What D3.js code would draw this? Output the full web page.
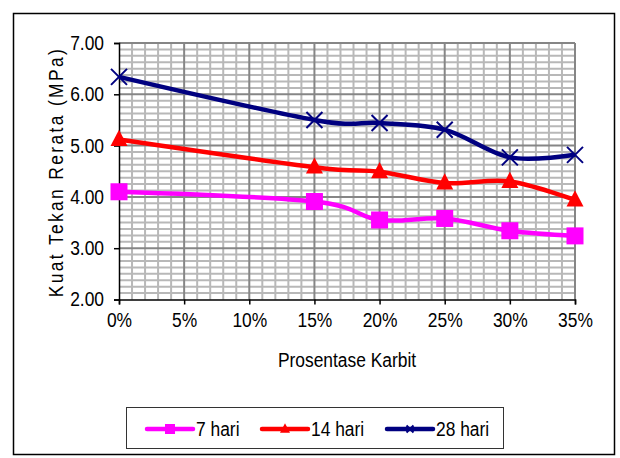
<!DOCTYPE html>
<html>
<head>
<meta charset="utf-8">
<script src="https://cdn.jsdelivr.net/npm/d3@7"></script>
<style>
  html, body { margin: 0; padding: 0; background: #fff; }
  svg { display: block; font-family: "Liberation Sans", Arial, sans-serif; }
</style>
</head>
<body>
<svg id="chart" width="620" height="458"></svg>
<script>
// Carbide percentage on the x axis (%)
const categories = [0, 15, 20, 25, 30, 35];
const xTickValues = [0, 5, 10, 15, 20, 25, 30, 35];
const yTickValues = [2, 3, 4, 5, 6, 7];

// Mean compressive strength (MPa) per curing age
const hari7 = [4.10, 3.91, 3.55, 3.58, 3.34, 3.24];
const hari14 = [5.12, 4.58, 4.49, 4.27, 4.30, 3.94];
const hari28 = [6.34, 5.50, 5.44, 5.31, 4.77, 4.82];

const seriesNames = ["7 hari", "14 hari", "28 hari"];
const seriesValues = [hari7, hari14, hari28];
const seriesColors = ["#ff00ff", "#ff0000", "#000080"];
const seriesMarkers = ["square", "triangle", "x"];

// narrow, tall lettering
const FONT = 20;
const SX = 0.87;

const svg = d3.select("#chart");

// outer frame
svg.append("rect")
  .attr("x", 13.5).attr("y", 13.5)
  .attr("width", 601).attr("height", 441)
  .attr("fill", "none").attr("stroke", "#000").attr("stroke-width", 1.5);

const x = d3.scaleLinear().domain([0, 35]).range([119, 575]);
const y = d3.scaleLinear().domain([2, 7]).range([299.5, 43]);

// minor grid
const grid = svg.append("g");
const minorX = d3.range(1, 36, 1).filter(d => d % 5 !== 0);
const minorY = d3.range(2.125, 7.001, 0.125).filter(d => Math.abs(d - Math.round(d)) > 1e-6);
grid.selectAll("line.mx").data(minorX).join("line")
  .attr("x1", d => x(d)).attr("x2", d => x(d))
  .attr("y1", y(7)).attr("y2", y(2))
  .attr("stroke", "#b8b8b8").attr("stroke-width", 2);
grid.selectAll("line.my").data(minorY).join("line")
  .attr("x1", x(0)).attr("x2", x(35))
  .attr("y1", d => y(d)).attr("y2", d => y(d))
  .attr("stroke", "#b8b8b8").attr("stroke-width", 2);
// major grid
grid.selectAll("line.Mx").data(xTickValues.filter(d => d > 0)).join("line")
  .attr("x1", d => x(d)).attr("x2", d => x(d))
  .attr("y1", y(7)).attr("y2", y(2))
  .attr("stroke", "#868686").attr("stroke-width", 2);
grid.selectAll("line.My").data(yTickValues.filter(d => d > 2)).join("line")
  .attr("x1", x(0)).attr("x2", x(35))
  .attr("y1", d => y(d)).attr("y2", d => y(d))
  .attr("stroke", "#868686").attr("stroke-width", 2);

// axes
const yAxis = svg.append("g")
  .attr("transform", `translate(${x(0)},0)`)
  .call(d3.axisLeft(y).tickValues(yTickValues).tickFormat(d3.format(".2f")).tickSizeOuter(0).tickSize(5).tickPadding(10));
const xAxis = svg.append("g")
  .attr("transform", `translate(0,${y(2)})`)
  .call(d3.axisBottom(x).tickValues(xTickValues).tickFormat(d => d + "%").tickSizeOuter(0).tickSize(5).tickPadding(8));
[yAxis, xAxis].forEach(a => {
  a.selectAll("path.domain").attr("stroke", "#000").attr("stroke-width", 1.5);
  a.selectAll(".tick line").attr("stroke", "#000").attr("stroke-width", 1.5);
  a.selectAll("text").attr("font-size", FONT).attr("fill", "#000")
    .attr("font-family", "\"Liberation Sans\", Arial, sans-serif")
    .attr("transform", `scale(${SX},1)`)
    .attr("x", function () { return (+d3.select(this).attr("x") || 0) / SX; });
});

// axis titles
svg.append("text")
  .attr("transform", `translate(63,${(y(7) + y(2)) / 2 + 2}) rotate(-90) scale(${SX},1)`)
  .attr("text-anchor", "middle")
  .attr("font-size", FONT)
  .attr("textLength", 248 / SX).attr("lengthAdjust", "spacing")
  .text("Kuat Tekan Rerata (MPa)");
svg.append("text")
  .attr("transform", `translate(347,367) scale(${SX},1)`)
  .attr("text-anchor", "middle")
  .attr("font-size", FONT)
  .text("Prosentase Karbit");

// series lines (smoothed)
const line = d3.line()
  .x((d, i) => x(categories[i]))
  .y(d => y(d))
  .curve(d3.curveCatmullRom.alpha(0));

function drawMarker(g, type, color, cx, cy, s) {
  if (type === "square") {
    g.append("rect")
      .attr("x", cx - s / 2).attr("y", cy - s / 2)
      .attr("width", s).attr("height", s).attr("fill", color);
  } else if (type === "triangle") {
    const h = s * 0.95;
    g.append("path")
      .attr("d", `M${cx},${cy - h * 0.6}L${cx + s / 2},${cy + h * 0.4}L${cx - s / 2},${cy + h * 0.4}Z`)
      .attr("fill", color);
  } else {
    const r = s / 2;
    g.append("path")
      .attr("d", `M${cx - r},${cy - r}L${cx + r},${cy + r}M${cx - r},${cy + r}L${cx + r},${cy - r}`)
      .attr("stroke", color).attr("stroke-width", 2).attr("fill", "none");
  }
}

const plot = svg.append("g");
seriesValues.forEach((vals, k) => {
  plot.append("path")
    .attr("d", line(vals))
    .attr("fill", "none")
    .attr("stroke", seriesColors[k])
    .attr("stroke-width", 4.5)
    .attr("stroke-linejoin", "round");
});
seriesValues.forEach((vals, k) => {
  const g = plot.append("g");
  vals.forEach((v, i) => {
    const size = seriesMarkers[k] === "x" ? 16 : 17;
    drawMarker(g, seriesMarkers[k], seriesColors[k], x(categories[i]), y(v), size);
  });
});

// legend
const legend = svg.append("g");
legend.append("rect")
  .attr("x", 126.5).attr("y", 407.5).attr("width", 377).attr("height", 41)
  .attr("fill", "#fff").attr("stroke", "#333").attr("stroke-width", 1);
const legendX = [147, 262, 387];
seriesNames.forEach((name, k) => {
  const lx = legendX[k], ly = 429;
  legend.append("line")
    .attr("x1", lx).attr("x2", lx + 46).attr("y1", ly).attr("y2", ly)
    .attr("stroke", seriesColors[k]).attr("stroke-width", 4.5).attr("stroke-linecap", "round");
  drawMarker(legend, seriesMarkers[k], seriesColors[k], lx + 23, ly, seriesMarkers[k] === "x" ? 7 : 10);
  legend.append("text")
    .attr("transform", `translate(${lx + 49},${ly + 7}) scale(${SX},1)`)
    .attr("font-size", FONT)
    .text(name);
});
</script>
</body>
</html>
